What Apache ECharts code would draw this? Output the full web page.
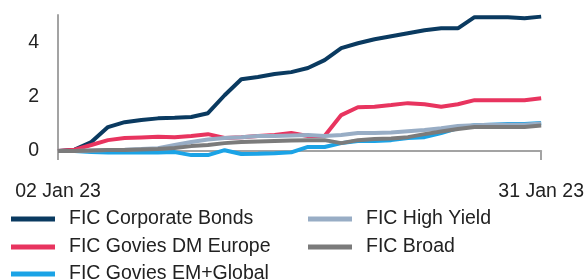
<!DOCTYPE html>
<html>
<head>
<meta charset="utf-8">
<title>FIC</title>
<script src="https://cdn.jsdelivr.net/npm/echarts@6/dist/echarts.min.js"></script>
</head>
<body style="margin:0">
<div id="main" style="width:587px;height:280px;"></div>
<script type="text/javascript">
// daily points 02 Jan 23 .. 31 Jan 23
var dates = ['02 Jan 23','03 Jan 23','04 Jan 23','05 Jan 23','06 Jan 23','07 Jan 23','08 Jan 23','09 Jan 23','10 Jan 23','11 Jan 23',
  '12 Jan 23','13 Jan 23','14 Jan 23','15 Jan 23','16 Jan 23','17 Jan 23','18 Jan 23','19 Jan 23','20 Jan 23','21 Jan 23',
  '22 Jan 23','23 Jan 23','24 Jan 23','25 Jan 23','26 Jan 23','27 Jan 23','28 Jan 23','29 Jan 23','30 Jan 23','31 Jan 23'];
var yTicks = [0, 2, 4];

var corporate = [0, 0.05, 0.33, 0.88, 1.06, 1.14, 1.2, 1.22, 1.25, 1.39,
  2.05, 2.64, 2.72, 2.83, 2.9, 3.05, 3.34, 3.78, 3.96, 4.11,
  4.22, 4.33, 4.44, 4.51, 4.51, 4.92, 4.92, 4.92, 4.88, 4.94];
var dmEurope = [0, 0.05, 0.22, 0.4, 0.48, 0.5, 0.52, 0.51, 0.55, 0.62,
  0.48, 0.51, 0.55, 0.59, 0.66, 0.55, 0.55, 1.32, 1.61, 1.63,
  1.69, 1.76, 1.72, 1.63, 1.72, 1.87, 1.87, 1.87, 1.87, 1.94];
var emGlobal = [0, 0, -0.04, -0.05, -0.05, -0.05, -0.05, -0.04, -0.15, -0.15,
  0.03, -0.11, -0.1, -0.08, -0.05, 0.15, 0.15, 0.29, 0.37, 0.37,
  0.4, 0.48, 0.51, 0.66, 0.84, 0.95, 0.97, 0.99, 0.99, 1.03];
var highYield = [0, 0, 0.02, 0.04, 0.05, 0.07, 0.1, 0.22, 0.33, 0.42,
  0.48, 0.51, 0.55, 0.55, 0.57, 0.59, 0.55, 0.59, 0.66, 0.66,
  0.68, 0.73, 0.77, 0.84, 0.92, 0.95, 0.97, 0.97, 0.97, 1.01];
var broad = [0, 0, 0.02, 0.04, 0.04, 0.06, 0.07, 0.11, 0.18, 0.22,
  0.29, 0.33, 0.35, 0.37, 0.39, 0.4, 0.4, 0.29, 0.4, 0.44,
  0.46, 0.51, 0.62, 0.72, 0.81, 0.88, 0.88, 0.88, 0.88, 0.94];

var names = ['FIC Corporate Bonds', 'FIC Govies DM Europe', 'FIC Govies EM+Global', 'FIC High Yield', 'FIC Broad'];
var colors = ['#0a3a60', '#e8345f', '#1ba3e6', '#98adc5', '#7b7b7b'];
var values = [corporate, dmEurope, emGlobal, highYield, broad];

var font = 'Liberation Sans, Arial, sans-serif';
var fs = 19.5;
var last = dates.length - 1;

// one legend per entry so the two columns sit where they do in the picture
var legendPos = [[6, 204], [6, 232], [6, 259], [303, 204], [303, 232]];

var myChart = echarts.init(document.getElementById('main'));
myChart.setOption({
    backgroundColor: '#ffffff',
    animation: false,
    color: colors,
    grid: { left: 58, right: 44, top: 15, bottom: 123 },
    legend: names.map(function (n, k) {
        return {
            data: [n],
            left: legendPos[k][0], top: legendPos[k][1],
            icon: 'rect', itemWidth: 44, itemHeight: 5,
            textStyle: { fontSize: fs, fontFamily: font, color: '#222', padding: [0, 0, 0, 9] }
        };
    }),
    xAxis: {
        type: 'category',
        data: dates,
        boundaryGap: false,
        axisLine: { lineStyle: { color: '#a3a3a3', width: 2 } },
        axisTick: {
            length: 9,
            lineStyle: { color: '#a3a3a3', width: 2 },
            interval: function (i) { return i === 0 || i === last; }
        },
        axisLabel: {
            interval: function (i) { return i === 0 || i === last; },
            fontSize: fs, fontFamily: font, color: '#222', margin: 25
        }
    },
    yAxis: {
        type: 'value',
        min: -0.22, max: 5,
        splitLine: { show: false },
        axisTick: { show: false },
        axisLine: { show: true, lineStyle: { color: '#a3a3a3', width: 2 } },
        axisLabel: {
            customValues: yTicks,
            fontSize: fs, fontFamily: font, color: '#222', margin: 19
        }
    },
    series: names.map(function (n, k) {
        return {
            name: n,
            type: 'line',
            data: values[k],
            symbol: 'none',
            lineStyle: { width: 4, color: colors[k] },
            itemStyle: { color: colors[k] }
        };
    })
});
</script>
</body>
</html>
